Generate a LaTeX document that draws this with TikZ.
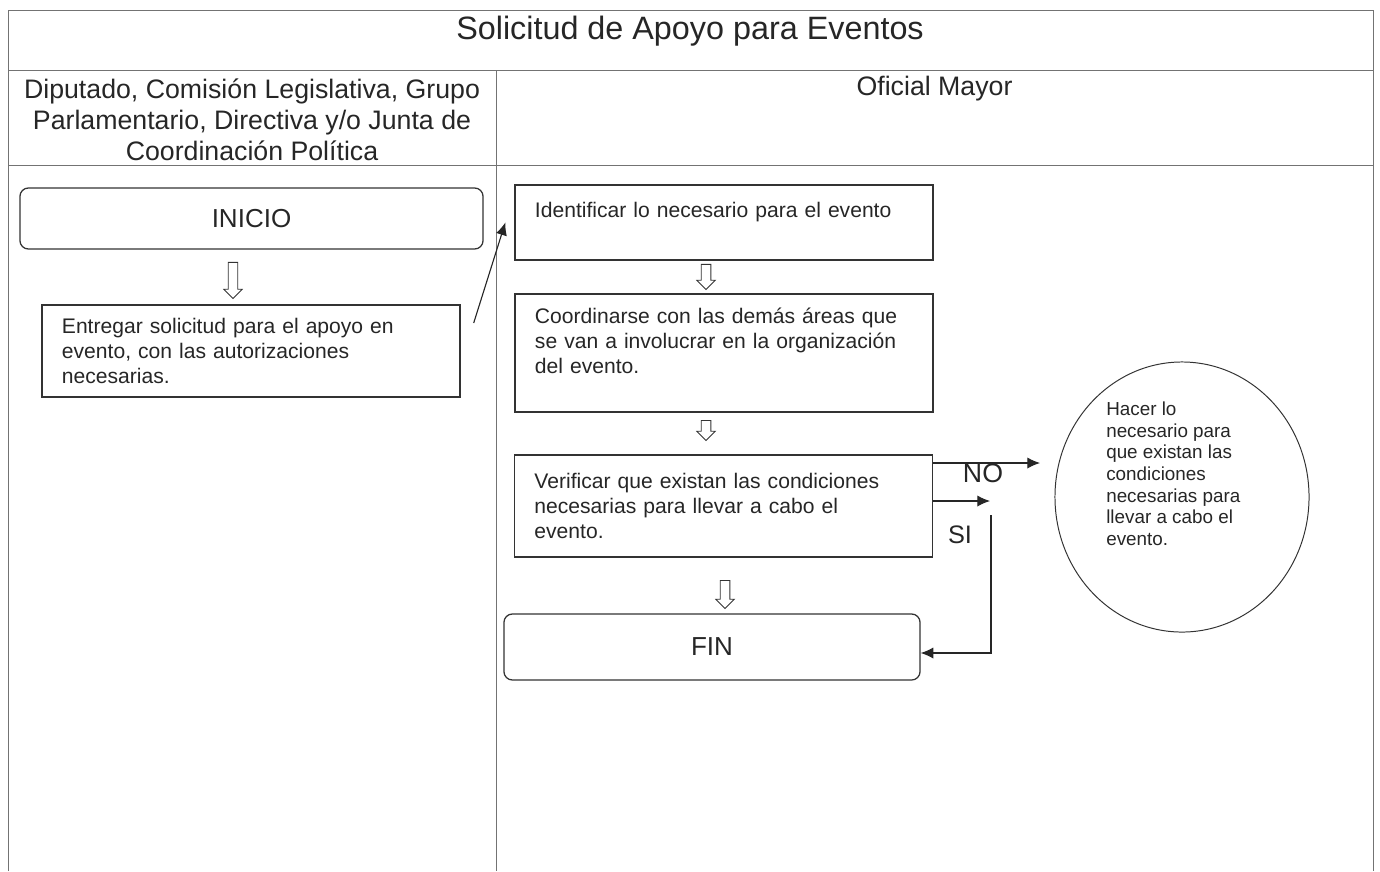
\documentclass[tikz,border=0pt]{standalone}
\usepackage{fontspec}
\setmainfont{Liberation Sans}
\usepackage{tikz}
\usetikzlibrary{arrows.meta, positioning, calc, shapes.geometric, shapes.arrows}

\begin{document}
\begin{tikzpicture}[
  x=0.025cm, y=-0.025cm,
  marco/.style={draw=black!55, line width=0.7pt},
  caja/.style={
    rectangle,
    draw=black!80,
    line width=0.9pt,
    align=left,
    text width=9.45cm,
    inner xsep=0.5cm,
    text=black!85,
    font=\fontsize{15}{17.8}\selectfont
  },
  terminal/.style={
    rectangle,
    draw=black!80,
    rounded corners=6pt,
    line width=0.9pt,
    text=black!85,
    font=\fontsize{18.5}{20}\selectfont
  },
  bajar/.style={
    single arrow, draw=black!80, line width=0.6pt,
    shape border rotate=270,
    minimum width=0.45cm,
    single arrow head extend=0.11cm, inner sep=0.11cm
  },
  arrow/.style={-{Latex[length=9pt, width=8pt]}, line width=0.8pt, draw=black!85}
]
\useasboundingbox (0,0) rectangle (1380,871);

% Marco y carriles
\draw[marco] (8,871) -- (8,10) -- (1373,10) -- (1373,871);
\draw[marco] (8,70) -- (1373,70);
\draw[marco] (8,165) -- (1373,165);
\draw[marco] (496,70) -- (496,871);

\node[text=black!85, font=\fontsize{23}{26}\selectfont] (titulo) at (690,31)
  {Solicitud de Apoyo para Eventos};
\node[align=center, text=black!85, font=\fontsize{19}{22}\selectfont] (carril1) at (252,120) {%
  Diputado, Comisión Legislativa, Grupo\\
  Parlamentario, Directiva y/o Junta de\\
  Coordinación Política
};
\node[text=black!85, font=\fontsize{19}{22}\selectfont] (carril2) at (934.5,89) {Oficial Mayor};

% Diputado (izquierda)
\node[terminal, minimum width=11.575cm, minimum height=1.525cm] (inicio) at (251.5,218.5) {INICIO};
\node[bajar, minimum height=0.9cm] (b1) at (233,278) {};
\node[caja, minimum height=2.3cm] (entregar) at (251,351) {%
  Entregar solicitud para el apoyo en\\
  evento, con las autorizaciones\\
  necesarias.
};

% Oficial Mayor (derecha)
\node[caja, minimum height=1.875cm] (identificar) at (724,222.5) {%
  Identificar lo necesario para el evento\\
  \mbox{}
};
\node[bajar, minimum height=0.625cm] (b2) at (706,274.5) {};
\node[caja, minimum height=2.95cm] (coordinarse) at (724,353) {%
  Coordinarse con las demás áreas que\\
  se van a involucrar en la organización\\
  del evento.\\
  \mbox{}
};
\node[bajar, minimum height=0.5cm] (b3) at (706,428) {};
\node[caja, minimum height=2.55cm] (verificar) at (723.5,506) {%
  Verificar que existan las condiciones\\
  necesarias para llevar a cabo el\\
  evento.
};
\node[bajar, minimum height=0.7cm] (b4) at (725,592) {};
\node[terminal, minimum width=10.4cm, minimum height=1.65cm] (fin) at (712,647) {FIN};

\node[ellipse, draw=black!80, line width=0.7pt, minimum width=6.35cm, minimum height=6.75cm] (hacer) at (1182,497) {};
\node[anchor=north west, align=left, inner sep=0pt, text=black!85,
  font=\fontsize{13.4}{15.3}\selectfont] (hacertexto) at (1106,402) {%
  Hacer lo\\
  necesario para\\
  que existan las\\
  condiciones\\
  necesarias para\\
  llevar a cabo el\\
  evento.
};

% Conectores
\coordinate (noend) at (1040,463);
\coordinate (siend) at (990,501);
\coordinate (siback) at (991,515);
\draw[arrow] ($(entregar.east)+(13,-28)$) -- ($(identificar.west)+(-9,0)$);
\draw[arrow] (verificar.east |- noend) -- (noend);
\draw[arrow] (verificar.east |- siend) -- (siend);
\draw[arrow] (siback) |- ($(fin.east)+(0,6)$);
\node[text=black!85, font=\fontsize{19}{20}\selectfont] (lblno) at (983,473) {NO};
\node[text=black!85, font=\fontsize{18}{20}\selectfont] (lblsi) at (960,535) {SI};

\end{tikzpicture}
\end{document}
